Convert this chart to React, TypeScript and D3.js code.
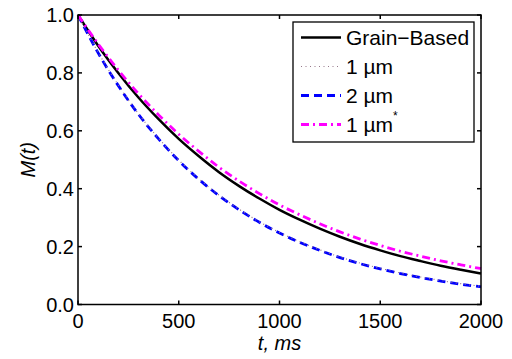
import React, { useEffect, useRef } from 'react';
import * as d3 from 'd3';

// time axis (ms)
const times = [0, 100, 200, 300, 400, 500, 600, 700, 800, 900, 1000,
  1100, 1200, 1300, 1400, 1500, 1600, 1700, 1800, 1900, 2000];

// values
const grainBased = [1.0, 0.894, 0.800, 0.715, 0.640, 0.572, 0.512, 0.457, 0.409, 0.366, 0.327,
  0.293, 0.262, 0.234, 0.209, 0.187, 0.167, 0.150, 0.134, 0.120, 0.107];
const oneMicron = [1.0, 0.871, 0.758, 0.659, 0.574, 0.499, 0.434, 0.378, 0.329, 0.286, 0.249,
  0.217, 0.189, 0.164, 0.143, 0.125, 0.109, 0.095, 0.083, 0.072, 0.063];
const twoMicron = [1.0, 0.869, 0.756, 0.657, 0.572, 0.497, 0.432, 0.376, 0.327, 0.284, 0.247,
  0.215, 0.187, 0.162, 0.141, 0.123, 0.107, 0.093, 0.081, 0.070, 0.061];
const oneMicronStar = [1.0, 0.900, 0.810, 0.728, 0.655, 0.588, 0.529, 0.474, 0.426, 0.383, 0.344,
  0.310, 0.279, 0.251, 0.226, 0.204, 0.184, 0.167, 0.151, 0.137, 0.124];

const xTicks = [0, 500, 1000, 1500, 2000];
const yTicks = [0, 0.2, 0.4, 0.6, 0.8, 1.0];

const seriesList = [
  { name: 'Grain\u2212Based', values: grainBased, color: '#000000', width: 2.5, dash: null, star: false },
  { name: '1 \u00b5m', values: oneMicron, color: '#96788a', width: 1.2, dash: '1,3.5', star: false },
  { name: '2 \u00b5m', values: twoMicron, color: '#0000ff', width: 2.8, dash: '8,5', star: false },
  { name: '1 \u00b5m', values: oneMicronStar, color: '#ff00ff', width: 2.8, dash: '8,4,2,4', star: true },
];

const W = 512;
const H = 359;
const font = '"Liberation Sans", Arial, Helvetica, sans-serif';

const App = () => {
  const svgRef = useRef(null);

  useEffect(() => {
    const svg = d3.select(svgRef.current);
    svg.selectAll('*').remove();

    const left = 78, right = 481, top = 15, bottom = 304.5;

    const x = d3.scaleLinear().domain([0, 2000]).range([left, right]);
    const y = d3.scaleLinear().domain([0, 1]).range([bottom, top]);

    svg.append('rect').attr('width', W).attr('height', H).attr('fill', '#fff');

    // curves
    const line = d3.line<number>()
      .x((d, i) => x(times[i]))
      .y(d => y(d))
      .curve(d3.curveMonotoneX);

    const order = [0, 2, 1, 3];
    order.forEach(k => {
      const s = seriesList[k];
      svg.append('path')
        .attr('d', line(s.values))
        .attr('fill', 'none')
        .attr('stroke', s.color)
        .attr('stroke-width', s.width)
        .attr('stroke-dasharray', s.dash)
        .attr('stroke-linejoin', 'round');
    });

    // frame + ticks (inward, all sides)
    const axes = svg.append('g').attr('stroke', '#000').attr('stroke-width', 1.5);
    axes.append('rect')
      .attr('x', left).attr('y', top)
      .attr('width', right - left).attr('height', bottom - top)
      .attr('fill', 'none');
    xTicks.forEach(t => {
      axes.append('line').attr('x1', x(t)).attr('x2', x(t)).attr('y1', bottom).attr('y2', bottom - 4);
      axes.append('line').attr('x1', x(t)).attr('x2', x(t)).attr('y1', top).attr('y2', top + 4);
    });
    yTicks.forEach(t => {
      axes.append('line').attr('x1', left).attr('x2', left + 4).attr('y1', y(t)).attr('y2', y(t));
      axes.append('line').attr('x1', right).attr('x2', right - 4).attr('y1', y(t)).attr('y2', y(t));
    });

    // tick labels
    const labels = svg.append('g')
      .attr('font-family', font)
      .attr('font-size', 20)
      .attr('fill', '#000');
    xTicks.forEach(t => {
      labels.append('text')
        .attr('x', x(t)).attr('y', 328)
        .attr('text-anchor', 'middle')
        .text(d3.format('d')(t));
    });
    yTicks.forEach(t => {
      labels.append('text')
        .attr('x', 74).attr('y', y(t) + 7)
        .attr('text-anchor', 'end')
        .text(d3.format('.1f')(t));
    });

    // axis titles
    svg.append('text')
      .attr('x', (left + right) / 2).attr('y', 350)
      .attr('text-anchor', 'middle')
      .attr('font-family', font).attr('font-size', 20).attr('font-style', 'italic')
      .text('t, ms');
    svg.append('text')
      .attr('transform', `translate(35,${(top + bottom) / 2}) rotate(-90)`)
      .attr('text-anchor', 'middle')
      .attr('font-family', font).attr('font-size', 20).attr('font-style', 'italic')
      .text('M(t)');

    // legend
    const lg = svg.append('g');
    lg.append('rect')
      .attr('x', 293).attr('y', 22)
      .attr('width', 181).attr('height', 120)
      .attr('fill', '#fff').attr('stroke', '#000').attr('stroke-width', 1.3);
    seriesList.forEach((s, i) => {
      const cy = 37.5 + i * 29;
      lg.append('line')
        .attr('x1', 301).attr('x2', 341)
        .attr('y1', cy).attr('y2', cy)
        .attr('stroke', s.color)
        .attr('stroke-width', s.width)
        .attr('stroke-dasharray', s.dash);
      const txt = lg.append('text')
        .attr('x', 346).attr('y', cy + 7.5)
        .attr('font-family', font).attr('font-size', 21)
        .text(s.name);
      if (s.star) {
        txt.append('tspan')
          .attr('dy', -12).attr('font-size', 12)
          .text('*');
      }
    });
  }, []);

  return (
    <div style={{ position: 'absolute', left: 0, top: 0 }}>
      <svg ref={svgRef} width={W} height={H}></svg>
    </div>
  );
};

export default App;
